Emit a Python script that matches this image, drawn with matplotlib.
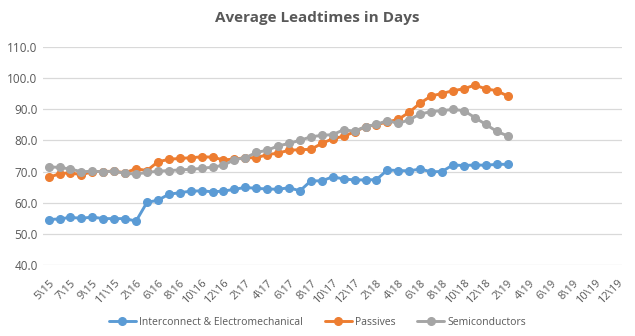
import matplotlib
matplotlib.use("Agg")
import matplotlib.pyplot as plt

# Month labels (month\year); only every other one is printed on the axis
months = ["5\\15", "6\\15", "7\\15", "8\\15", "9\\15", "10\\15", "11\\15", "12\\15",
          "2\\16", "4\\16",
          "6\\16", "7\\16", "8\\16", "9\\16", "10\\16", "11\\16", "12\\16",
          "1\\17", "2\\17", "3\\17", "4\\17", "5\\17", "6\\17", "7\\17", "8\\17",
          "9\\17", "10\\17", "11\\17", "12\\17",
          "1\\18", "2\\18", "3\\18", "4\\18", "5\\18", "6\\18", "7\\18", "8\\18",
          "9\\18", "10\\18", "11\\18", "12\\18",
          "1\\19", "2\\19", "3\\19", "4\\19", "5\\19", "6\\19", "7\\19", "8\\19",
          "9\\19", "10\\19", "11\\19", "12\\19"]

interconnect = [54.6, 54.8, 55.3, 55.0, 55.4, 54.9, 54.9, 54.9, 54.1, 60.1,
                60.8, 62.7, 63.2, 63.7, 63.8, 63.5, 63.7, 64.3, 64.9, 64.6,
                64.4, 64.3, 64.8, 63.8, 67.0, 67.0, 68.3, 67.6, 67.3, 67.3,
                67.4, 70.5, 70.3, 70.2, 70.8, 69.9, 70.0, 72.1, 71.9, 72.1,
                72.0, 72.3, 72.3]

passives = [68.1, 69.3, 69.6, 68.9, 70.0, 70.0, 70.1, 69.6, 70.9, 70.3,
            73.1, 73.9, 74.2, 74.4, 74.7, 74.6, 73.7, 74.0, 74.4, 74.4,
            75.4, 75.9, 76.8, 77.0, 77.1, 79.0, 80.5, 81.3, 82.7, 84.4,
            85.0, 85.9, 86.7, 89.0, 91.9, 94.2, 95.0, 95.9, 96.5, 97.7,
            96.5, 95.9, 94.2]

semiconductors = [71.5, 71.3, 70.8, 69.9, 70.1, 69.9, 70.1, 69.4, 69.2, 69.7,
                  70.1, 70.3, 70.5, 70.7, 71.0, 71.4, 72.0, 73.8, 74.4, 76.1,
                  76.8, 78.2, 79.0, 80.0, 81.1, 81.6, 81.8, 83.4, 82.9, 84.4,
                  85.1, 86.3, 85.4, 86.6, 88.4, 89.2, 89.5, 89.9, 89.5, 87.3,
                  85.1, 82.9, 81.4]

series_names = ["Interconnect & Electromechanical", "Passives", "Semiconductors"]
series_colors = ["#5B9BD5", "#ED7D31", "#A5A5A5"]
y_ticks = [40, 50, 60, 70, 80, 90, 100, 110]

plt.rcParams["font.family"] = ["Open Sans", "DejaVu Sans"]
text_color = "#595959"

fig = plt.figure(figsize=(6.35, 3.36), dpi=100)
ax = fig.add_axes([0.068, 0.211, 0.912, 0.650])

for vals, name, col in zip([interconnect, passives, semiconductors], series_names, series_colors):
    ax.plot(range(len(vals)), vals, color=col, lw=2.1, marker="o", ms=5.5,
            markeredgecolor=col, label=name, solid_capstyle="round")

ax.set_ylim(40, 110)
ax.set_yticks(y_ticks)
ax.set_yticklabels([f"{v:.1f}" for v in y_ticks], color=text_color, fontsize=8.5)
ax.set_xlim(-0.5, len(months) - 0.5)
tick_idx = list(range(0, len(months), 2))
ax.set_xticks(tick_idx)
ax.set_xticklabels([months[i] for i in tick_idx], rotation=45, ha="right",
                   rotation_mode="anchor", color=text_color, fontsize=8)
ax.tick_params(axis="both", length=0, pad=4)
ax.tick_params(axis="x", pad=9)
ax.grid(axis="y", color="#D9D9D9", lw=0.9)
ax.set_axisbelow(True)
for s in ax.spines.values():
    s.set_visible(False)

fig.text(0.5, 0.946, "Average Leadtimes in Days", ha="center", va="center",
         fontsize=11, fontweight="bold", color=text_color)

fig.legend(loc="center", bbox_to_anchor=(0.5, 0.04), ncol=3, frameon=False,
           fontsize=7.5, labelcolor=text_color, handlelength=2.6, handletextpad=0.3,
           columnspacing=2.1)

fig.savefig("out.png", dpi=100, facecolor="white")
